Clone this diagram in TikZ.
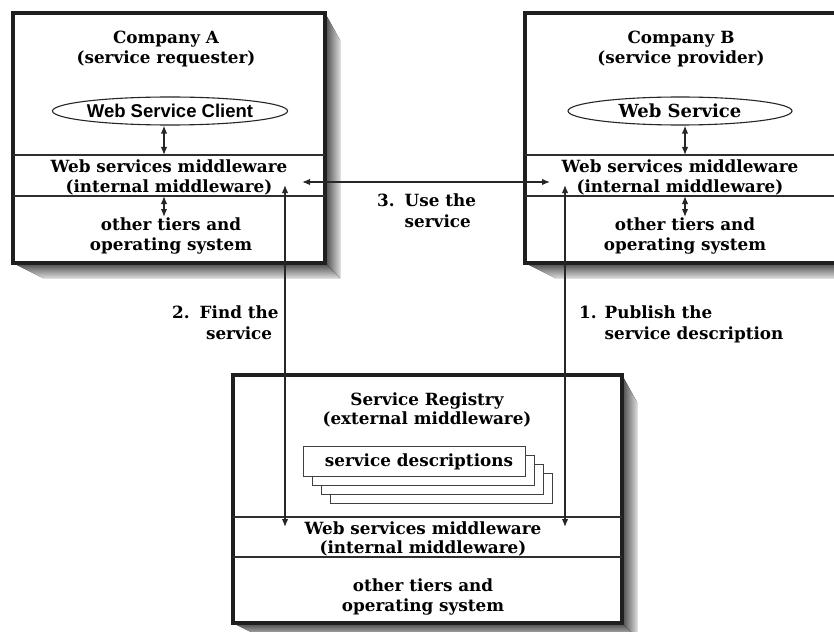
\documentclass[tikz,border=0pt]{standalone}
\usepackage{fontspec}
\setmainfont{DejaVu Serif}
\newfontfamily\sansbold{Liberation Sans}
\usetikzlibrary{arrows.meta,shapes.geometric}

% drop shadow: right flank and bottom flank of a box (x0,y0)-(x1,y1)
\newcommand\boxshadow[4]{%
  \fill[left color=black!72,right color=black!15]
    (#3,#2) -- (#3+15,#2+27) -- (#3+15,#4+15) -- (#3,#4) -- cycle;
  \fill[top color=black!72,bottom color=black!15]
    (#1,#4) -- (#3,#4) -- (#3+15,#4+15) -- (#1+30,#4+15) -- cycle;
}

\begin{document}
\begin{tikzpicture}[x=1pt,y=-1pt,
  frame/.style={draw=black!88,line width=3.6pt,fill=white},
  tier/.style={draw=black!82,line width=1.7pt},
  txt/.style={font=\bfseries\fontsize{16.8}{19.5}\selectfont,align=center,inner sep=0pt},
  lbl/.style={font=\bfseries\fontsize{16.8}{21}\selectfont,inner sep=0pt},
  oval/.style={ellipse,draw=black!85,line width=1.1pt,minimum width=224pt,minimum height=28pt,inner sep=0pt},
  sheet/.style={draw=black!75,line width=0.9pt,fill=white},
  link/.style={draw=black!85,line width=1.4pt,{Latex[length=8pt,width=6.5pt]}-{Latex[length=8pt,width=6.5pt]}}]

\useasboundingbox (0,0) rectangle (834,631);
\fill[white] (0,0) rectangle (834,631);

% ---- Company A ----
\boxshadow{13}{13}{325}{263}
\draw[frame] (13,13) rectangle (325,263);
\draw[tier] (13,155) -- (325,155);
\draw[tier] (13,196) -- (325,196);
\node[txt] (titleA) at (166,49) {Company A\\(service requester)};
\node[oval] (client) at (170,111) {\sansbold\bfseries\fontsize{18.5}{20}\selectfont Web Service Client};
\node[txt] (mwA) at (169,177.5) {Web services middleware\\(internal middleware)};
\node[txt] (osA) at (171,236) {other tiers and\\operating system};

% ---- Company B ----
\boxshadow{525}{13}{837}{263}
\draw[frame] (525,13) rectangle (837,263);
\draw[tier] (525,155) -- (837,155);
\draw[tier] (525,196) -- (837,196);
\node[txt] (titleB) at (681,49) {Company B\\(service provider)};
\node[oval] (service) at (680,111) {\fontsize{18}{20}\selectfont\bfseries Web Service};
\node[txt] (mwB) at (680,177.5) {Web services middleware\\(internal middleware)};
\node[txt] (osB) at (685,236) {other tiers and\\operating system};

% ---- Service registry ----
\boxshadow{233}{375}{622}{623}
\draw[frame] (233,375) rectangle (622,623);
\draw[tier] (233,517) -- (622,517);
\draw[tier] (233,557) -- (622,557);
\node[txt] (titleC) at (427,410) {Service Registry\\(external middleware)};
\foreach \k in {3,2,1} {
  \draw[sheet] (303+9*\k,446+9*\k) rectangle (525+9*\k,476+9*\k);
}
\node[sheet,minimum width=222pt,minimum height=30pt,inner sep=0pt] (desc) at (414,461) {};
\node[txt] at (419,462) {service descriptions};
\node[txt] (mwC) at (423,539) {Web services middleware\\(internal middleware)};
\node[txt] (osC) at (423,597) {other tiers and\\operating system};

% ---- connection points ----
\coordinate (aMidTop) at (164,155);
\coordinate (aMidBot) at (164,196);
\coordinate (aOsTop) at (164,217);
\coordinate (bMidTop) at (685,155);
\coordinate (bMidBot) at (685,196);
\coordinate (bOsTop) at (685,217);
\coordinate (useA) at (302,182);
\coordinate (useB) at (550,182);
\coordinate (findA) at (285,185);
\coordinate (findC) at (285,527);
\coordinate (pubB) at (565,185);
\coordinate (pubC) at (565,527);

% ---- connectors ----
\draw[link] (client.south -| aMidTop) -- (aMidTop);
\draw[link] (aMidBot) -- (aOsTop);
\draw[link] (service.south -| bMidTop) -- (bMidTop);
\draw[link] (bMidBot) -- (bOsTop);
\draw[link] (useA) -- (useB);
\draw[link] (findA) -- (findC);
\draw[link] (pubB) -- (pubC);

% ---- labels ----
\node[lbl,anchor=west] (use) at (377,212.5)
  {\begin{tabular}{@{}l@{\hspace{10pt}}l@{}}3.&Use the\\&service\end{tabular}};
\node[lbl,anchor=west] (find) at (172,324.5)
  {\begin{tabular}{@{}l@{\hspace{10pt}}c@{}}2.&Find the\\&service\end{tabular}};
\node[lbl,anchor=west] (publish) at (579,324.5)
  {\begin{tabular}{@{}l@{\hspace{8pt}}l@{}}1.&Publish the\\&service description\end{tabular}};
\end{tikzpicture}
\end{document}
